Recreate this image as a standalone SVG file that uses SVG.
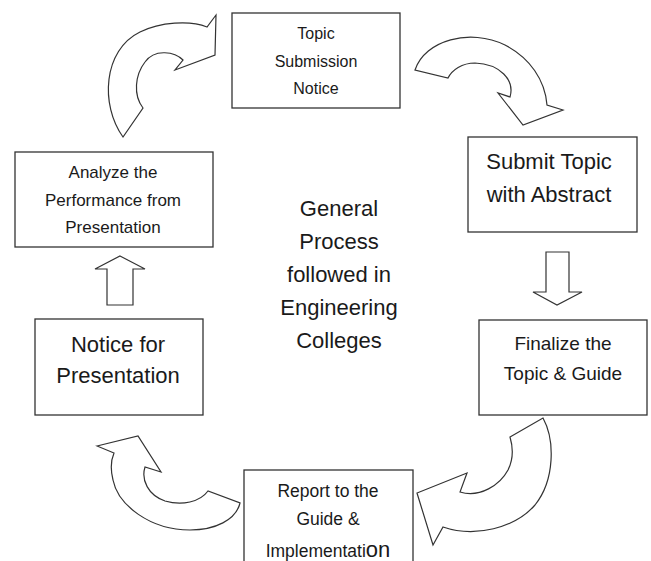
<svg xmlns="http://www.w3.org/2000/svg" width="651" height="561" viewBox="0 0 651 561">
<style>
.box{fill:#fff;stroke:#333;stroke-width:1.3}
.arr{fill:#fff;stroke:#333;stroke-width:1.2;stroke-linejoin:miter}
text{font-family:"Liberation Sans",Arial,sans-serif;fill:#1a1a1a;text-anchor:middle}
</style>
<rect width="651" height="561" fill="#fff"/>
<g id="connectors">
<path class="arr" d="M123,137 C100,105 103,50 140,32 C160,22 190,20 207,27 L216,15 L215,55 L175,70 L183,60 C175,52 155,48 145,62 C135,75 133,95 143,108 Z"/>
<path class="arr" d="M415,70 C425,40 470,28 505,45 C530,58 545,80 547,105 L563,110 L523,125 L498,93 L510,97 C515,80 500,64 475,63 C462,63 452,70 448,78 Z"/>
<polygon class="arr" points="546,252 569,252 569,292 582,292 557,305 533,292 546,292"/>
<path class="arr" d="M543,418 C555,440 555,480 535,505 C515,528 475,538 443,527 L433,545 L417,493 L467,473 L460,492 C480,498 500,485 508,470 C514,458 513,447 510,437 Z"/>
<path class="arr" d="M97,446 L138,436 L161,472 L145,467 C141,480 148,495 165,501 C182,506 200,502 208,491 L240,503 C236,520 215,530 190,530 C150,530 118,505 113,480 C110,468 111,460 114,453 Z"/>
<polygon class="arr" points="120,256 145,269 133,269 133,305 107,305 107,269 95,269"/>
</g>
<g id="n1">
<rect class="box" x="232" y="13" width="168" height="95"/>
<text font-size="16" x="316" y="39">Topic</text>
<text font-size="16" x="316" y="67">Submission</text>
<text font-size="16" x="316" y="94">Notice</text>
</g>
<g id="n2">
<rect class="box" x="468" y="137" width="169" height="95"/>
<text font-size="22" x="549" y="169">Submit Topic</text>
<text font-size="22" x="549" y="202">with Abstract</text>
</g>
<g id="n3">
<rect class="box" x="479" y="320" width="168" height="95"/>
<text font-size="19" x="563" y="350">Finalize the</text>
<text font-size="19" x="563" y="380">Topic &amp; Guide</text>
</g>
<g id="n4">
<rect class="box" x="244" y="470" width="169" height="100"/>
<text font-size="17.5" x="328" y="497">Report to the</text>
<text font-size="17.5" x="328" y="525">Guide &amp;</text>
<text font-size="17.5" x="328" y="557">Implementati<tspan font-size="22">on</tspan></text>
</g>
<g id="n5">
<rect class="box" x="35" y="319" width="168" height="96"/>
<text font-size="22" x="118" y="352">Notice for</text>
<text font-size="22" x="118" y="383">Presentation</text>
</g>
<g id="n6">
<rect class="box" x="15" y="152" width="198" height="95"/>
<text font-size="17" x="113" y="178">Analyze the</text>
<text font-size="17" x="113" y="206">Performance from</text>
<text font-size="17" x="113" y="233">Presentation</text>
</g>
<g id="center">
<text font-size="22" x="339" y="216">General</text>
<text font-size="22" x="339" y="249">Process</text>
<text font-size="22" x="339" y="282">followed in</text>
<text font-size="22" x="339" y="315">Engineering</text>
<text font-size="22" x="339" y="348">Colleges</text>
</g>
</svg>
